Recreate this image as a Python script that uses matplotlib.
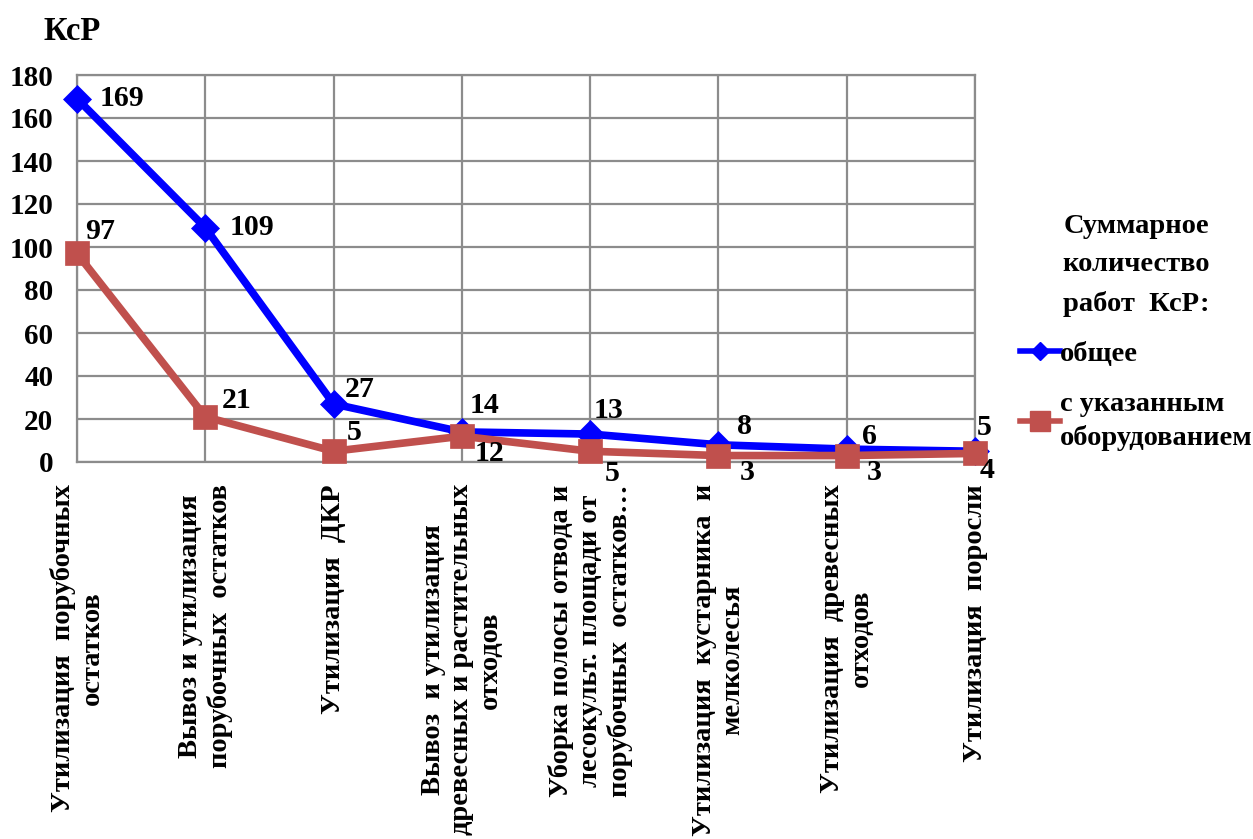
import matplotlib
matplotlib.use("Agg")
import matplotlib.pyplot as plt
from matplotlib.lines import Line2D

# Работы КсР по видам
categories = [
    "Утилизация  порубочных\nостатков",
    "Вывоз и утилизация\nпорубочных  остатков",
    "Утилизация  ДКР",
    "Вывоз  и утилизация\nдревесных и растительных\nотходов",
    "Уборка полосы отвода и\nлесокульт. площади от\nпорубочных  остатков…",
    "Утилизация  кустарника  и\nмелколесья",
    "Утилизация  древесных\nотходов",
    "Утилизация  поросли",
]
total = [169, 109, 27, 14, 13, 8, 6, 5]
with_equipment = [97, 21, 5, 12, 5, 3, 3, 4]
y_ticks = [0, 20, 40, 60, 80, 100, 120, 140, 160, 180]

series_total = "общее"
series_equip = "с указанным\nоборудованием"
legend_title = "Суммарное\nколичество\nработ  КсР:"

BLUE = "#0000FF"
RED = "#C0504D"
GRID = "#8C8C8C"
FONT = "Liberation Serif"
FS = 21

plt.rcParams["font.family"] = [FONT, "DejaVu Serif"]
plt.rcParams["font.weight"] = "bold"

fig = plt.figure(figsize=(12.53, 8.39), dpi=100)
ax = fig.add_axes([77 / 1253, 1 - 462 / 839, (975 - 77) / 1253, (462 - 75) / 839])

x = list(range(len(categories)))
ax.plot(x, total, color=BLUE, lw=5.5, marker="D", ms=14, mec=BLUE, mew=0.5,
        label=series_total, zorder=3, clip_on=False)
ax.plot(x, with_equipment, color=RED, lw=5.5, marker="s", ms=17, mec=RED, mew=0.5,
        label=series_equip, zorder=4, clip_on=False)

# label offsets in pixels (right, up), one per point
off_total = [(23, 0), (24, 0), (11, 14), (8, 26), (3, 24), (19, 18), (15, 13), (2, 24)]
off_equip = [(8, 22), (16, 16), (13, 19), (13, -17), (15, -22), (21, -17), (20, -17), (5, -17)]
for xi, v, o in zip(x, total, off_total):
    ax.annotate(str(v), (xi, v), xytext=o, textcoords="offset pixels",
                ha="left", va="center", fontsize=FS + 0.5, fontweight="bold", zorder=5)
for xi, v, o in zip(x, with_equipment, off_equip):
    ax.annotate(str(v), (xi, v), xytext=o, textcoords="offset pixels",
                ha="left", va="center", fontsize=FS + 0.5, fontweight="bold", zorder=5)

ax.set_xlim(0, len(categories) - 1)
ax.set_ylim(0, 180)
ax.set_yticks(y_ticks)
ax.set_yticklabels([str(t) for t in y_ticks], fontsize=FS, fontweight="bold")
ax.set_xticks(x)
ax.set_xticklabels(categories, rotation=90, ha="center", va="top",
                   multialignment="center", fontsize=FS - 0.5, fontweight="bold")
ax.tick_params(axis="both", length=0)
ax.tick_params(axis="y", pad=17)
ax.tick_params(axis="x", pad=16)
ax.grid(True, color=GRID, lw=1.6)
ax.set_axisbelow(True)
for s in ax.spines.values():
    s.set_color(GRID)
    s.set_linewidth(1.6)

fig.text(44 / 1253, 1 - 32 / 839, "КсР", fontsize=FS + 2.5, fontweight="bold",
         ha="left", va="center")

handles = [
    Line2D([], [], color=BLUE, lw=4, marker="D", ms=9, mec=BLUE),
    Line2D([], [], color=RED, lw=4, marker="s", ms=14, mec=RED),
]
leg = fig.legend(handles, [series_total, series_equip], title=legend_title,
                 loc="upper left", bbox_to_anchor=(1020 / 1253, 1 - 214 / 839),
                 frameon=False, prop={"family": FONT, "weight": "bold", "size": FS - 0.5},
                 title_fontproperties={"family": FONT, "weight": "bold", "size": FS - 0.5},
                 handlelength=1.4, handletextpad=0.0, labelspacing=0.85,
                 borderaxespad=0, borderpad=0)
leg.get_title().set_multialignment("center")
leg.get_title().set_linespacing(1.7)
for t in leg.get_texts():
    t.set_linespacing(1.4)

fig.savefig("out.png", dpi=100)
